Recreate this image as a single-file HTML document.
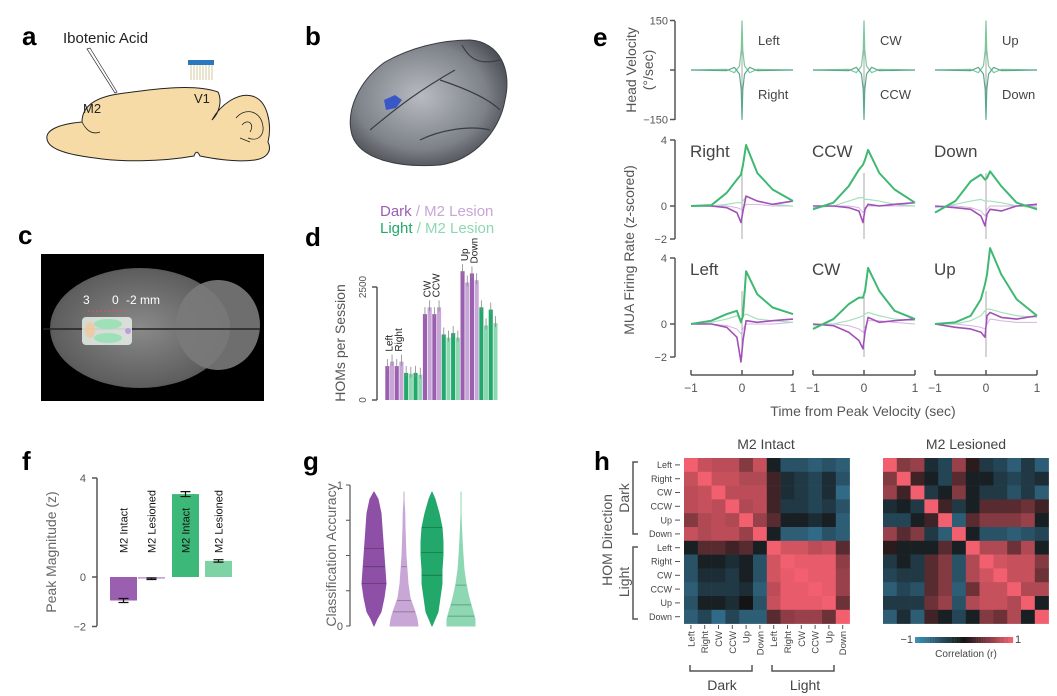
<!DOCTYPE html>
<html><head><meta charset="utf-8"><style>
html,body{margin:0;padding:0;background:#fff;}
svg{display:block;font-family:"Liberation Sans",sans-serif;}
</style></head><body>
<svg id="fig" width="1057" height="696" viewBox="0 0 1057 696" xmlns="http://www.w3.org/2000/svg">
<defs>
<radialGradient id="gb" cx="0.45" cy="0.45" r="0.6"><stop offset="0" stop-color="#b8bcc2"/><stop offset="0.7" stop-color="#7d8188"/><stop offset="1" stop-color="#4a4d52"/></radialGradient>
<radialGradient id="gc" cx="0.5" cy="0.5" r="0.6"><stop offset="0" stop-color="#8a8a8a"/><stop offset="0.8" stop-color="#5e5e5e"/><stop offset="1" stop-color="#3a3a3a"/></radialGradient>
</defs>

<!-- Panel a -->
<g>
<text x="22" y="45" font-size="26" font-weight="bold">a</text>
<text x="63" y="43" font-size="15" fill="#222">Ibotenic Acid</text>
<path d="M48,142 C42,130 60,124 82,122 C82,108 92,98 118,94 C160,88 195,84 218,92 C222,100 220,112 212,120 C220,105 238,92 252,96 C268,100 272,125 268,142 C272,150 268,158 255,160 C240,162 220,160 200,156 C198,152 196,150 194,156 C160,162 120,162 95,158 C70,155 52,150 48,142 Z" fill="#f6dba6" stroke="#222" stroke-width="1"/>
<path d="M236,118 C244,108 258,110 262,122 C266,135 258,142 248,138 M242,125 C248,118 255,124 250,132 M240,138 L250,142" fill="none" stroke="#222" stroke-width="0.8"/>
<path d="M82,122 C86,130 92,135 100,132" fill="none" stroke="#222" stroke-width="0.8"/>
<polygon points="87,49 90,48 117,92 115,93" fill="#fff" stroke="#333" stroke-width="0.7"/>
<text x="83" y="113" font-size="13" fill="#222">M2</text>
<text x="194" y="103" font-size="13" fill="#222">V1</text>
<rect x="188" y="60" width="26" height="5" fill="#2a77bd"/>
<g stroke="#c9b98a" stroke-width="0.8">
<line x1="191" y1="65" x2="191" y2="80"/><line x1="194" y1="65" x2="194" y2="80"/><line x1="197" y1="65" x2="197" y2="80"/><line x1="200" y1="65" x2="200" y2="80"/><line x1="203" y1="65" x2="203" y2="80"/><line x1="206" y1="65" x2="206" y2="80"/><line x1="209" y1="65" x2="209" y2="80"/><line x1="212" y1="65" x2="212" y2="80"/></g>
</g>

<!-- Panel b -->
<g>
<text x="305" y="45" font-size="26" font-weight="bold">b</text>
<path d="M352,135 C345,110 360,80 385,62 C410,48 440,40 470,40 C500,42 512,70 505,100 C500,130 475,160 440,165 C400,168 360,160 352,135 Z" fill="url(#gb)" stroke="#3a3d42" stroke-width="1"/>
<path d="M370,130 C400,105 420,90 455,70 M440,80 C470,90 490,100 500,110 M420,140 C440,130 470,125 490,130 M462,45 C470,60 480,65 500,60" fill="none" stroke="#3a3d42" stroke-width="1.2"/>
<path d="M384,100 L395,95 L402,100 L396,108 L386,110 Z" fill="#3a57c8"/>
</g>

<!-- Panel c -->
<g>
<text x="18" y="244" font-size="26" font-weight="bold">c</text>
<rect x="41" y="254" width="223" height="147" fill="#000"/>
<ellipse cx="140" cy="328" rx="90" ry="60" fill="url(#gc)"/>
<ellipse cx="218" cy="325" rx="42" ry="45" fill="#7a7a7a" opacity="0.9"/>
<line x1="43" y1="329" x2="260" y2="329" stroke="#222" stroke-width="1.5"/>
<rect x="82" y="317" width="50" height="28" rx="4" fill="#e8efe8" opacity="0.85"/>
<ellipse cx="108" cy="324" rx="14" ry="5" fill="#9ee0b8"/><ellipse cx="108" cy="338" rx="14" ry="5" fill="#9ee0b8"/>
<ellipse cx="90" cy="330" rx="5" ry="8" fill="#f0c89a" opacity="0.8"/><circle cx="128" cy="331" r="3" fill="#c39adf"/>
<line x1="88" y1="311" x2="127" y2="311" stroke="#d55" stroke-width="1" stroke-dasharray="2,2"/>
<text x="83" y="304" font-size="12" fill="#fff">3</text>
<text x="112" y="304" font-size="12" fill="#fff">0</text>
<text x="126" y="304" font-size="12" fill="#fff">-2 mm</text>
</g>

<!-- Panel d -->
<g id="pd">
<text x="305" y="246" font-size="26" font-weight="bold">d</text>
<text x="380" y="216" font-size="15"><tspan fill="#9b5fb0">Dark</tspan><tspan fill="#c8a6d6"> / M2 Lesion</tspan></text>
<text x="380" y="233" font-size="15"><tspan fill="#22a86a">Light</tspan><tspan fill="#8dd8b2"> / M2 Lesion</tspan></text>
<text transform="translate(345,343) rotate(-90)" text-anchor="middle" font-size="14" fill="#555">HOMs per Session</text>
</g>

<!-- Panel e -->
<g id="pe">
<text x="593" y="46" font-size="26" font-weight="bold">e</text>
<text transform="translate(636,70) rotate(-90)" text-anchor="middle" font-size="14" fill="#555">Head Velocity</text>
<text transform="translate(653,70) rotate(-90)" text-anchor="middle" font-size="14" fill="#555">(°/sec)</text>
<text transform="translate(634,250) rotate(-90)" text-anchor="middle" font-size="14" fill="#555">MUA Firing Rate (z-scored)</text>
<text x="863" y="416" text-anchor="middle" font-size="14" fill="#555">Time from Peak Velocity (sec)</text>
</g>

<!-- Panel f -->
<g id="pf">
<text x="22" y="470" font-size="26" font-weight="bold">f</text>
<text transform="translate(56,552) rotate(-90)" text-anchor="middle" font-size="14" fill="#666">Peak Magnitude (z)</text>
</g>

<!-- Panel g -->
<g id="pg">
<text x="303" y="470" font-size="26" font-weight="bold">g</text>
<text transform="translate(336,555) rotate(-90)" text-anchor="middle" font-size="14" fill="#666">Classification Accuracy</text>
</g>

<!-- Panel h -->
<g id="ph">
<text x="594" y="470" font-size="26" font-weight="bold">h</text>
<text x="766" y="449" text-anchor="middle" font-size="14" fill="#444">M2 Intact</text>
<text x="966" y="449" text-anchor="middle" font-size="14" fill="#444">M2 Lesioned</text>
<text transform="translate(612,540) rotate(-90)" text-anchor="middle" font-size="14" fill="#555">HOM Direction</text>
<text transform="translate(629,498) rotate(-90)" text-anchor="middle" font-size="14" fill="#555">Dark</text>
<text transform="translate(629,582) rotate(-90)" text-anchor="middle" font-size="14" fill="#555">Light</text>
<path d="M638,462 h-5 v72 h5 M638,547 h-5 v72 h5" fill="none" stroke="#555" stroke-width="1.5"/>
<path d="M690,665 v6 h62 v-6 M772,665 v6 h62 v-6" fill="none" stroke="#555" stroke-width="1.5"/>
<text x="722" y="690" text-anchor="middle" font-size="14" fill="#444">Dark</text>
<text x="805" y="690" text-anchor="middle" font-size="14" fill="#444">Light</text>
<text x="913" y="643" text-anchor="end" font-size="11" fill="#444">−1</text>
<text x="1015" y="643" font-size="11" fill="#444">1</text>
<text x="966" y="657" text-anchor="middle" font-size="10" fill="#444">Correlation (r)</text>
</g>
</svg>
<script>
const NS="http://www.w3.org/2000/svg";
// ---------- Panel d data ----------
const dValues=[750,850,750,850, 600,580,600,560, 1900,2050,1900,2050, 1450,1380,1480,1380, 2850,2600,2800,2650, 2050,1650,2000,1700];
const dColors=["#9b5fb0","#c8a6d6","#9b5fb0","#c8a6d6","#22a86a","#8dd8b2","#22a86a","#8dd8b2"];
const dCatLabels=["Left","Right","CW","CCW","Up","Down"];
const dTicks=[0,2500];
// ---------- Panel e data ----------
const eT=[-1,-0.6,-0.3,-0.1,-0.02,0.02,0.08,0.3,0.6,1];
const eNames=["Right","CCW","Down","Left","CW","Up"];
const eGreen=[[0,0.05,0.8,1.6,1.9,2.5,3.7,2.0,1.0,0.3],[-0.2,0.2,1.2,2.2,2.5,2.8,3.4,2.0,1.0,0.2],[-0.4,0.3,1.5,1.9,1.6,1.7,2.1,1.2,0.2,-0.2],[0,0.2,0.6,0.8,0.1,0.5,3.2,1.8,1.0,0.6],[-0.3,0.3,1.2,1.6,1.6,2.0,3.4,2.0,0.8,0.3],[0,0.1,0.5,1.5,2.4,3.0,4.6,3.0,1.5,0.5]];
const eLightGreen=[[0,0,0.1,0.2,0.2,0.3,0.6,0.3,0.1,0],[-0.1,0,0.3,0.5,0.5,0.4,0.4,0.3,0.1,0],[-0.1,0.1,0.3,0.4,0.3,0.3,0.3,0.2,0,-0.1],[0,0.1,0.3,0.5,0.3,0.5,0.6,0.3,0.2,0.1],[-0.1,0,0.2,0.4,0.5,0.6,0.7,0.5,0.3,0.2],[0,0,0.2,0.5,0.8,0.9,0.9,0.7,0.5,0.4]];
const ePurple=[[0,0,-0.1,-0.4,-1.0,-0.3,0.6,0.3,0.1,0.3],[0,0,-0.1,-0.3,-1.0,-0.2,0.1,0,0.1,0.2],[0,-0.1,-0.2,-0.6,-1.2,-0.5,-0.2,-0.3,0,0.1],[0,0,-0.2,-0.8,-2.3,-1.0,0.2,0.1,0.2,0.3],[0,-0.1,-0.5,-1.0,-1.5,-0.5,0.4,0.1,0.2,0.3],[0,-0.2,-0.3,-0.5,-0.8,0.5,0.7,0.4,0.3,0.5]];
const eLightPurple=[[0,0,0,-0.1,-0.2,-0.1,0.1,0.1,0,0],[0,0,0,-0.1,-0.4,-0.1,0,0,0,0],[0,0,-0.1,-0.3,-0.6,-0.2,0,0,0,0],[0,0,-0.1,-0.3,-0.6,-0.3,0,0,0,0.1],[0,0,-0.1,-0.3,-0.5,-0.2,0.2,0.2,0.1,0],[0,0,-0.1,-0.2,-0.3,0,0.3,0.2,0.1,0.1]];
const vT=[-1,-0.3,-0.15,-0.05,-0.015,0,0.015,0.05,0.15,0.3,1];
const vPos=[0,2,-8,12,60,150,60,12,-8,2,0];
const vNeg=[0,-2,8,-12,-60,-150,-60,-12,8,-2,0];
const vTop=["Left","CW","Up"], vBot=["Right","CCW","Down"];
const eXTicks=[-1,0,1];
// ---------- Panel f data ----------
const fCats=["M2 Intact","M2 Lesioned","M2 Intact","M2 Lesioned"];
const fValues=[-0.95,-0.07,3.35,0.65];
const fErr=[0.08,0.03,0.1,0.05];
const fColors=["#9b5fb0","#c8a6d6","#3cb878","#7dd3a4"];
const fTicks=[-2,0,4];
// ---------- Panel g data ----------
const gLevels=[0,0.05,0.1,0.2,0.3,0.4,0.5,0.6,0.7,0.8,0.9,0.95];
const gWidths=[[0,3,7,10,12,11,10,9,8,7,4,0],[14,13,11,6,4,3,2,1.5,1,0.8,0,0],[0,3,6,8,10,10,11,11,10,7,3,0],[14,14,12,8,5,3,2,1.2,0.5,0,0,0]];
const gQuart=[[0.3,0.42,0.55],[0.1,0.18,0.42],[0.36,0.52,0.7],[0.07,0.15,0.29]];
const gColors=["#8e4fa6","#c8a6d6","#22a86a","#8dd8b2"];
const gTicks=[0,1];
// ---------- Panel h data ----------
const hLabels=["Left","Right","CW","CCW","Up","Down","Left","Right","CW","CCW","Up","Down"];
const hIntact=[
[1,.8,.75,.75,.5,.8,-.1,-.5,-.5,-.6,-.5,-.6],
[.8,1,.8,.8,.7,.7,.2,-.2,-.3,-.4,-.2,-.5],
[.75,.8,1,.75,.75,.75,.2,-.2,-.3,-.4,-.2,-.7],
[.75,.8,.75,1,.7,.75,.2,-.3,-.3,-.4,-.3,-.5],
[.5,.7,.75,.7,1,.6,.3,-.1,-.1,-.2,-.1,-.6],
[.8,.7,.75,.75,.6,1,-.1,-.6,-.6,-.7,-.5,-.6],
[-.1,.3,.3,.2,.3,-.1,1,.85,.85,.75,.8,.3],
[-.5,-.1,-.1,-.2,-.1,-.5,.85,1,.95,.95,.95,.55],
[-.5,-.2,-.2,-.3,-.1,-.5,.85,.95,1,.95,.95,.6],
[-.6,-.3,-.3,-.3,-.2,-.6,.75,.95,.95,1,.95,.6],
[-.5,-.1,-.1,-.2,0,-.5,.8,.95,.95,.95,1,.4],
[-.6,-.4,-.7,-.4,-.6,-.6,.3,.55,.6,.6,.4,1]];
const hLesioned=[
[1,.5,.6,-.2,-.4,.6,.1,-.3,-.4,-.6,-.3,-.6],
[.5,1,.2,-.1,-.4,.3,-.1,-.1,-.3,-.4,-.3,-.2],
[.6,.2,1,-.3,-.1,.5,-.1,-.3,-.3,-.5,-.3,-.6],
[-.2,-.1,-.3,1,.2,-.3,-.1,.3,.3,.3,.4,.2],
[-.4,-.4,-.1,.2,1,-.6,.3,.5,.5,.5,.6,-.1],
[.6,.3,.5,-.3,-.6,1,-.1,-.5,-.5,-.6,-.5,-.4],
[.1,-.1,-.1,-.1,.3,-.1,1,.7,.7,.4,.7,-.1],
[-.3,-.1,-.3,.3,.5,-.5,.7,1,.85,.8,.8,.5],
[-.4,-.3,-.3,.3,.5,-.5,.7,.85,1,.8,.8,.4],
[-.6,-.4,-.5,.3,.5,-.6,.4,.8,.8,1,.7,.7],
[-.3,-.3,-.3,.4,.6,-.5,.7,.8,.8,.7,1,-.1],
[-.6,-.2,-.6,.2,-.1,-.4,-.1,.5,.4,.7,-.1,1]];

function mk(tag,attrs,parent){const e=document.createElementNS(NS,tag);for(const k in attrs)e.setAttribute(k,attrs[k]);(parent||document.getElementById('fig')).appendChild(e);return e;}
function txt(s,attrs,parent){const e=mk('text',attrs,parent);e.textContent=s;return e;}

// ----- d -----
(function(){
 const g=document.getElementById('pd');
 const y=v=>400-v/2500*113, x0=385, bw=4.7;
 mk('line',{x1:377,y1:287,x2:377,y2:400,stroke:'#555','stroke-width':1.5},g);
 dTicks.forEach(t=>{mk('line',{x1:372,y1:y(t),x2:377,y2:y(t),stroke:'#555','stroke-width':1.5},g);
  const l=txt(String(t),{transform:`translate(${366},${y(t)}) rotate(-90)`,'text-anchor':'middle','font-size':10,fill:'#555'},g);
  });
 dValues.forEach((v,i)=>{const x=x0+i*bw;
  const b=mk('rect',{x:x+0.3,y:y(v),width:bw-0.6,height:400-y(v),fill:dColors[i%8]},g);
  
  mk('line',{x1:x+bw/2,y1:y(v)-7,x2:x+bw/2,y2:y(v)+4,stroke:'#888','stroke-width':0.8},g);});
 dCatLabels.forEach((c,k)=>{const grp=Math.floor(k/2), idx=grp*8+(k%2)*2;
  const v=Math.max(dValues[idx],dValues[idx+1]);const x=x0+idx*bw+bw;
  const l=txt(c,{transform:`translate(${x+3},${y(v)-10}) rotate(-90)`,'font-size':10,fill:'#222'},g);
  });
})();

// ----- e -----
(function(){
 const g=document.getElementById('pe');
 const colX=[691,813,935], W=102;
 const xs=(c,t)=>colX[c]+(t+1)/2*W;
 const vy=v=>70-v/150*49.5;
 mk('line',{x1:675,y1:21,x2:675,y2:120,stroke:'#555','stroke-width':1.5},g);
 [[150,'150'],[0,''],[-150,'−150']].forEach(([v,s])=>{mk('line',{x1:670,y1:vy(v),x2:675,y2:vy(v),stroke:'#555','stroke-width':1.5},g);
  if(s){const l=txt(s,{x:668,y:vy(v)+4,'text-anchor':'end','font-size':11,fill:'#555'},g);}});
 for(let c=0;c<3;c++){
  mk('line',{x1:xs(c,0),y1:21,x2:xs(c,0),y2:120,stroke:'#aaa','stroke-width':1},g);
  [vPos,vNeg].forEach((arr,k)=>{const p=mk('polyline',{points:vT.map((t,i)=>xs(c,t)+','+vy(arr[i])).join(' '),fill:'none',stroke:k?'#5aa88a':'#7cc79c','stroke-width':1.2},g);
   });
  const a=txt(vTop[c],{x:xs(c,0)+16,y:45,'font-size':13,fill:'#444'},g);
  const b=txt(vBot[c],{x:xs(c,0)+16,y:99,'font-size':13,fill:'#444'},g);
 }
 const rows=[{top:140,zero:206,bot:239},{top:258,zero:324,bot:357}];
 rows.forEach((r,ri)=>{
  const ys=v=>r.zero-v*(r.bot-r.zero)/2;
  mk('line',{x1:675,y1:r.top,x2:675,y2:r.bot,stroke:'#555','stroke-width':1.5},g);
  [[4,'4'],[0,'0'],[-2,'−2']].forEach(([v,s])=>{mk('line',{x1:670,y1:ys(v),x2:675,y2:ys(v),stroke:'#555','stroke-width':1.5},g);
   const l=txt(s,{x:667,y:ys(v)+4,'text-anchor':'end','font-size':11,fill:'#555'},g);});
  for(let c=0;c<3;c++){const pi=ri*3+c;
   mk('line',{x1:xs(c,0),y1:ys(2),x2:xs(c,0),y2:r.bot,stroke:'#aaa','stroke-width':1},g);
   [[eLightPurple,'#d7b3e0',1],[eLightGreen,'#a6e0bf',1.2],[ePurple,'#a050b8',1.6],[eGreen,'#3fb872',2]].forEach(([arr,col,w])=>{
    const p=mk('polyline',{points:eT.map((t,i)=>xs(c,t)+','+ys(arr[pi][i])).join(' '),fill:'none',stroke:col,'stroke-width':w,'stroke-linejoin':'round'},g);
    });
   const l=txt(eNames[pi],{x:colX[c]-1,y:r.top+17,'font-size':17,fill:'#444'},g);
  }
 });
 for(let c=0;c<3;c++){
  mk('line',{x1:colX[c],y1:375,x2:colX[c]+W,y2:375,stroke:'#555','stroke-width':1.5},g);
  eXTicks.forEach(t=>{mk('line',{x1:xs(c,t),y1:370,x2:xs(c,t),y2:375,stroke:'#555','stroke-width':1.5},g);
   const l=txt(t<0?'−1':String(t),{x:xs(c,t),y:392,'text-anchor':'middle','font-size':12,fill:'#555'},g);});
 }
})();

// ----- f -----
(function(){
 const g=document.getElementById('pf');
 const y=v=>577-v*24.75, xs=[110,138,172,205], bw=27;
 mk('line',{x1:97,y1:478,x2:97,y2:626,stroke:'#555','stroke-width':1.5},g);
 fTicks.forEach(t=>{mk('line',{x1:92,y1:y(t),x2:97,y2:y(t),stroke:'#555','stroke-width':1.5},g);
  const l=txt(t<0?'−'+(-t):String(t),{x:86,y:y(t)+4,'text-anchor':'end','font-size':11,fill:'#555'},g);});
 fValues.forEach((v,i)=>{const b=mk('rect',{x:xs[i],y:Math.min(y(v),y(0)),width:bw,height:Math.max(1.5,Math.abs(y(v)-y(0))),fill:fColors[i]},g);
  
  const cx=xs[i]+bw/2, e1=y(v-fErr[i]), e2=y(v+fErr[i]);
  mk('path',{d:`M${cx-5},${e1}H${cx+5}M${cx-5},${e2}H${cx+5}M${cx},${e1}V${e2}`,stroke:'#111','stroke-width':1.2,fill:'none'},g);
  const l=txt(fCats[i],{transform:`translate(${cx+4},${553}) rotate(-90)`,'font-size':11,fill:'#111'},g);});
})();

// ----- g -----
(function(){
 const g=document.getElementById('pg');
 const y=v=>626-v*141, cx=[374,404,432,461];
 mk('line',{x1:350,y1:485,x2:350,y2:626,stroke:'#555','stroke-width':1.2},g);
 [0,0.25,0.5,0.75,1].forEach(t=>mk('line',{x1:346,y1:y(t),x2:350,y2:y(t),stroke:'#555','stroke-width':1},g));
 gTicks.forEach(t=>{const l=txt(String(t),{x:343,y:y(t)+4,'text-anchor':'end','font-size':11,fill:'#555'},g);});
 gWidths.forEach((w,i)=>{let d='M'+(cx[i]+w[0])+','+y(gLevels[0]);
  for(let k=1;k<w.length;k++)d+=' L'+(cx[i]+w[k])+','+y(gLevels[k]);
  for(let k=w.length-1;k>=0;k--)d+=' L'+(cx[i]-w[k])+','+y(gLevels[k]);
  const p=mk('path',{d:d+'Z',fill:gColors[i],stroke:gColors[i],'stroke-linejoin':'round'},g);
  
  gQuart[i].forEach(q=>{let hw=0;for(let k=1;k<gLevels.length;k++){if(q<=gLevels[k]){const f=(q-gLevels[k-1])/(gLevels[k]-gLevels[k-1]);hw=w[k-1]+f*(w[k]-w[k-1]);break;}}
   mk('line',{x1:cx[i]-hw,x2:cx[i]+hw,y1:y(q),y2:y(q),stroke:'rgba(0,0,0,0.35)','stroke-width':0.7},g);});
 });
})();

// ----- h -----
(function(){
 const g=document.getElementById('ph');
 const c0=[61,143,184],c1=[20,20,20],c2=[242,95,110];
 const col=v=>{const a=v<0?c0:c2,t=Math.abs(v);return 'rgb('+[0,1,2].map(j=>Math.round(c1[j]+(a[j]-c1[j])*t)).join(',')+')';};
 const cs=13.8;
 [[hIntact,684],[hLesioned,883]].forEach(([M,x0],mi)=>{
  M.forEach((row,r)=>row.forEach((v,c)=>{const e=mk('rect',{x:x0+c*cs,y:458+r*cs,width:cs+0.3,height:cs+0.3,fill:col(v)},g);
   }));
 });
 hLabels.forEach((s,i)=>{const yy=458+i*cs+cs/2;
  mk('line',{x1:675,x2:680,y1:yy,y2:yy,stroke:'#555'},g);
  const l=txt(s,{x:672,y:yy+3.2,'text-anchor':'end','font-size':9,fill:'#444'},g);
  const xx=684+i*cs+cs/2;mk('line',{x1:xx,x2:xx,y1:625,y2:629,stroke:'#555'},g);
  const m=txt(s,{transform:`translate(${xx+3.5},${631}) rotate(-90)`,'text-anchor':'end','font-size':9.5,fill:'#444'},g);});
 for(let i=0;i<40;i++){const v=-1+2*i/39;mk('rect',{x:915+i*2.45,y:637,width:2.6,height:6,fill:col(v)},g);}
})();
</script>
</body></html>
